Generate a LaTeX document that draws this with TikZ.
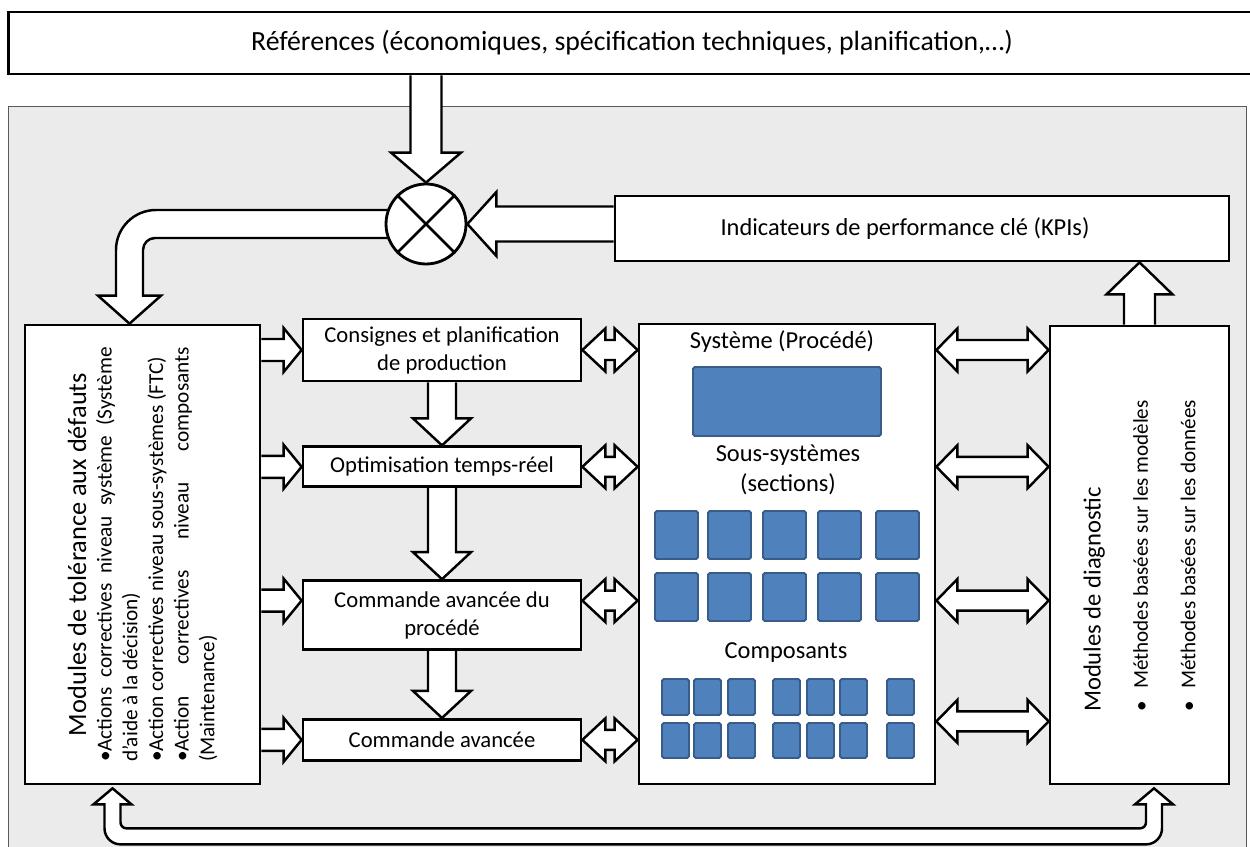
\documentclass[tikz,border=0pt]{standalone}
\usepackage{fontspec}
\setmainfont{Carlito}
\usetikzlibrary{positioning}
\usetikzlibrary{calc}
\definecolor{panelgray}{HTML}{EBEBEB}
\definecolor{pieceblue}{HTML}{4F81BD}
\definecolor{pieceedge}{HTML}{385D8A}
\pgfdeclarelayer{back}
\pgfdeclarelayer{links}
\pgfsetlayers{back,links,main}
\tikzset{>=latex, inner sep=0pt, font=\fontsize{12.9}{15.9}\selectfont}
\tikzstyle{block} = [draw, fill=white, rectangle, line width=1.6pt, text centered, align=center]
\tikzstyle{sum} = [draw, fill=white, circle, line width=1.6pt, minimum size=1.6cm]
\tikzstyle{fat} = [draw, fill=white, line width=1.4pt]
\tikzstyle{piece} = [draw=pieceedge, fill=pieceblue, line width=1.1pt, rounded corners=1pt]
\tikzstyle{systext} = [align=center, font=\fontsize{13.9}{17}\selectfont]
% block arrows: tail, tip, shaft half width, head half width, head length
\newcommand{\fatright}[5]{\draw[fat] ($(#1)+(0,-#3)$) -- ($(#2)+(-#5,-#3)$) -- ($(#2)+(-#5,-#4)$) -- (#2) -- ($(#2)+(-#5,#4)$) -- ($(#2)+(-#5,#3)$) -- ($(#1)+(0,#3)$);}
\newcommand{\fatleft}[5]{\draw[fat] ($(#1)+(0,-#3)$) -- ($(#2)+(#5,-#3)$) -- ($(#2)+(#5,-#4)$) -- (#2) -- ($(#2)+(#5,#4)$) -- ($(#2)+(#5,#3)$) -- ($(#1)+(0,#3)$);}
\newcommand{\fatdown}[5]{\draw[fat] ($(#1)+(-#3,0)$) -- ($(#2)+(-#3,-#5)$) -- ($(#2)+(-#4,-#5)$) -- (#2) -- ($(#2)+(#4,-#5)$) -- ($(#2)+(#3,-#5)$) -- ($(#1)+(#3,0)$);}
\newcommand{\fatup}[5]{\draw[fat] ($(#1)+(-#3,0)$) -- ($(#2)+(-#3,#5)$) -- ($(#2)+(-#4,#5)$) -- (#2) -- ($(#2)+(#4,#5)$) -- ($(#2)+(#3,#5)$) -- ($(#1)+(#3,0)$);}
\newcommand{\fatboth}[5]{\draw[fat] (#1) -- ($(#1)+(#5,-#4)$) -- ($(#1)+(#5,-#3)$) -- ($(#2)+(-#5,-#3)$) -- ($(#2)+(-#5,-#4)$) -- (#2) -- ($(#2)+(-#5,#4)$) -- ($(#2)+(-#5,#3)$) -- ($(#1)+(#5,#3)$) -- ($(#1)+(#5,#4)$) -- cycle;}

\begin{document}
\begin{tikzpicture}[x=0.02cm, y=-0.02cm]
		\useasboundingbox (0,0) rectangle (1250,847);
		\begin{pgfonlayer}{back}
			\draw[fill=panelgray, draw=gray!70!black, line width=0.5pt] (8,106) rectangle (1246,870);
		\end{pgfonlayer}

		\node [block, minimum width=24.96cm, minimum height=1.24cm, font=\fontsize{15.8}{18}\selectfont] (refs) at (632,43) {Références (économiques, spécification techniques, planification,…)};
		\node [sum] (sum) at (426,224) {};
		\draw [line width=1.6pt] (sum.north west) -- (sum.south east);
		\draw [line width=1.6pt] (sum.north east) -- (sum.south west);
		\node [block, minimum width=12.28cm, minimum height=1.3cm, font=\fontsize{13.9}{17}\selectfont] (kpi) at (922,228.5) {Indicateurs de performance clé (KPIs)\hspace*{0.68cm}};

		\node [block, minimum width=4.7cm, minimum height=9.18cm] (ftc) at (142.5,554.5) {\rotatebox{90}{\parbox{8.3cm}{\hyphenpenalty=10000\exhyphenpenalty=10000
			{\centering\fontsize{15}{14.6}\selectfont Modules de tolérance aux défauts\par}
			\fontsize{12.1}{14.6}\selectfont •Actions correctives niveau système (Système\linebreak d'aide à la décision)\par
			•Action correctives niveau sous-systèmes (FTC)\par
			•Action correctives niveau composants\linebreak (Maintenance)\par}}};

		\node [block, minimum width=5.56cm, minimum height=1.24cm] (cons) at (442,350) {Consignes et planification\\de production};
		\node [block, minimum width=5.56cm, minimum height=0.8cm, below=1.26cm of cons] (opt) {Optimisation temps-réel};
		\node [block, minimum width=5.56cm, minimum height=1.38cm, below=1.82cm of opt] (cmdp) {Commande avancée du\\procédé};
		\node [block, minimum width=5.56cm, minimum height=0.82cm, below=1.34cm of cmdp] (cmd) {Commande avancée};

		\node [block, minimum width=5.92cm, minimum height=9.2cm] (sys) at (787,554) {};
		\node [systext] (sys_title) at (782,342) {Système (Procédé)};
		\node [systext] (sub_title) at (788,470) {Sous-systèmes\\(sections)};
		\node [systext] (comp_title) at (786,653) {Composants};
		\draw [piece] (693,367) rectangle (881,436);
		\foreach \x in {655,708,763,818,876} {
			\draw [piece] (\x,511) rectangle ++(43,48);
			\draw [piece] (\x,573) rectangle ++(43,48);
		}
		\foreach \x in {662,694,728,773,807,840,887} {
			\draw [piece] (\x,679) rectangle ++(27,36);
			\draw [piece] (\x,723) rectangle ++(27,35);
		}

		\node [block, minimum width=3.58cm, minimum height=9.16cm] (diag) at (1139.5,555) {\rotatebox{90}{\parbox{6.28cm}{\raggedright
			\fontsize{14}{27}\selectfont Modules de diagnostic\par
			\fontsize{12}{27}\selectfont •\hspace{0.6em}Méthodes basées sur les modèles\par
			•\hspace{0.6em}Méthodes basées sur les données\par}}};

		\coordinate (in3) at ([yshift=0.29cm]cmdp.west);
		\coordinate (out3) at ([yshift=0.29cm]cmdp.east);
		\coordinate (side4) at ([yshift=0.37cm]sys.east |- cmd.east);
		\coordinate (bend_tip) at ([xshift=-0.26cm]ftc.north);
		\coordinate (bl_tip) at ([xshift=-0.6cm, yshift=-0.06cm]ftc.south);
		\coordinate (br_tip) at ([xshift=0.29cm, yshift=-0.06cm]diag.south);

		\begin{pgfonlayer}{links}
			\fatdown{sum.north |- refs.south}{sum.north}{15.5}{35}{30}
			\fatleft{kpi.west |- sum.east}{sum.east}{17.5}{32}{29}
			\draw [fat] ($(sum)+(-37.5,-14)$) [rounded corners=0.8cm] -- ($(bend_tip |- sum)+(-13.5,-14)$) [sharp corners] -- ($(bend_tip)+(-13.5,-28)$) -- ($(bend_tip)+(-31.5,-28)$) -- (bend_tip) -- ($(bend_tip)+(31.5,-28)$) -- ($(bend_tip)+(13.5,-28)$) [rounded corners=0.24cm] -- ($(bend_tip |- sum)+(13.5,14)$) [sharp corners] -- ($(sum)+(-37.5,14)$);

			\fatright{ftc.east |- cons.west}{cons.west}{11}{22}{18}
			\fatright{ftc.east |- opt.west}{opt.west}{11}{22}{18}
			\fatright{ftc.east |- in3}{in3}{11}{22}{18}
			\fatright{ftc.east |- cmd.west}{cmd.west}{11}{22}{18}

			\fatdown{cons.south}{opt.north}{14}{29}{27}
			\fatdown{opt.south}{cmdp.north}{14}{29}{27}
			\fatdown{cmdp.south}{cmd.north}{14}{29}{27}

			\fatboth{cons.east}{sys.west |- cons.east}{10}{21.5}{23}
			\fatboth{opt.east}{sys.west |- opt.east}{10}{21.5}{23}
			\fatboth{out3}{sys.west |- out3}{10}{21.5}{23}
			\fatboth{cmd.east}{sys.west |- cmd.east}{10}{21.5}{23}

			\fatboth{sys.east |- cons.east}{diag.west |- cons.east}{10}{21.5}{21}
			\fatboth{sys.east |- opt.east}{diag.west |- opt.east}{10}{21.5}{21}
			\fatboth{sys.east |- out3}{diag.west |- out3}{10}{21.5}{21}
			\fatboth{side4}{diag.west |- side4}{10}{21.5}{21}

			\fatup{diag.north}{kpi.south -| diag.north}{15.5}{33}{32}

			\draw [fat] (bl_tip) -- ($(bl_tip)+(19,16)$) -- ($(bl_tip)+(8,16)$) [rounded corners=0.12cm] -- ($(bl_tip)+(8,40)$) -- ($(br_tip)+(-8,40)$) [sharp corners] -- ($(br_tip)+(-8,16)$) -- ($(br_tip)+(-19,16)$) -- (br_tip) -- ($(br_tip)+(19,16)$) -- ($(br_tip)+(8,16)$) [rounded corners=0.32cm] -- ($(br_tip)+(8,56)$) -- ($(bl_tip)+(-8,56)$) [sharp corners] -- ($(bl_tip)+(-8,16)$) -- ($(bl_tip)+(-19,16)$) -- cycle;
		\end{pgfonlayer}
	\end{tikzpicture}
\end{document}
